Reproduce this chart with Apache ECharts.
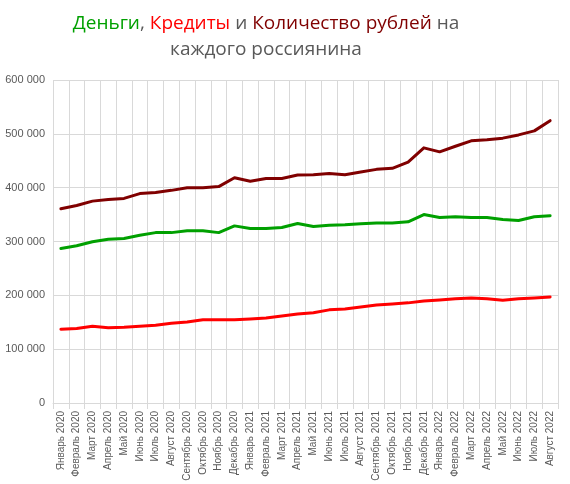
<!DOCTYPE html>
<html><head><meta charset="utf-8">
<script src="https://cdn.jsdelivr.net/npm/echarts@6/dist/echarts.min.js"></script>
<style>html,body{margin:0;padding:0;background:#fff}#c{width:570px;height:484px}</style>
</head><body><div id="c"></div>
<script>
const categories = ["Январь 2020","Февраль 2020","Март 2020","Апрель 2020","Май 2020","Июнь 2020","Июль 2020","Август 2020","Сентябрь 2020","Октябрь 2020","Ноябрь 2020","Декабрь 2020","Январь 2021","Февраль 2021","Март 2021","Апрель 2021","Май 2021","Июнь 2021","Июль 2021","Август 2021","Сентябрь 2021","Октябрь 2021","Ноябрь 2021","Декабрь 2021","Январь 2022","Февраль 2022","Март 2022","Апрель 2022","Май 2022","Июнь 2022","Июль 2022","Август 2022"];
const money = [287000,292000,299500,304000,305500,311500,316500,316500,320000,320000,316500,329000,324000,324000,326000,333500,328000,330000,331000,333000,334500,334500,336500,350000,344500,346000,344500,344500,341000,339000,346000,348000];
const credits = [137000,138500,142500,140000,140500,142500,144500,148000,150500,154500,154500,154500,156000,158000,161500,165500,167500,173000,174500,178500,182000,184000,186000,189500,191500,193500,195000,193500,191000,193500,195000,197000];
const rubles = [361000,367000,375000,378000,380000,389000,391000,395000,400000,400000,402000,418500,412000,417000,417000,423500,424000,426500,424000,429000,434000,436000,447500,474000,466500,477000,487000,489000,492000,498000,505500,524500];
const yTicks = {min:0, max:600000, interval:100000};

const chart = echarts.init(document.getElementById('c'));
const ser = (name, data, color) => ({name, type:'line', data, symbol:'none', smooth:false,
  lineStyle:{color, width:3, cap:'round', join:'round'}, itemStyle:{color}});
const rs = c => ({color:c, fontFamily:'Open Sans', fontSize:19, fontWeight:'normal', lineHeight:26});
chart.setOption({
  animation:false,
  title:{
    left:261, top:6, textAlign:'center',
    text:'{g|Деньги}{s|, }{r|Кредиты}{s| и }{d|Количество рублей}{s| на}\n{s|каждого россиянина}',
    textStyle:{
      fontFamily:'Open Sans', fontSize:19, fontWeight:'normal', lineHeight:26,
      rich:{ g:rs('#00A000'), r:rs('#FF0000'), d:rs('#800000'), s:rs('#595959') }
    }
  },
  grid:{left:53, right:12, top:80, bottom:81, containLabel:false},
  xAxis:{type:'category', data:categories, boundaryGap:true,
    axisLine:{show:true, lineStyle:{color:'#d9d9d9'}},
    axisTick:{show:true, length:6, interval:0, lineStyle:{color:'#d9d9d9'}},
    splitLine:{show:true, interval:0, lineStyle:{color:'#d9d9d9'}},
    axisLabel:{interval:0, rotate:90, color:'#595959', fontFamily:'Liberation Sans', fontSize:10, margin:8}
  },
  yAxis:{type:'value', min:yTicks.min, max:yTicks.max, interval:yTicks.interval,
    axisLine:{show:false}, axisTick:{show:false},
    splitLine:{lineStyle:{color:'#d9d9d9'}},
    axisLabel:{color:'#595959', fontFamily:'Liberation Sans', fontSize:11, margin:8,
      formatter:v=>String(v).replace(/\B(?=(\d{3})+(?!\d))/g,' ')}
  },
  series:[ser('Количество рублей', rubles, '#800000'), ser('Деньги', money, '#00A000'), ser('Кредиты', credits, '#FF0000')]
});
</script></body></html>
